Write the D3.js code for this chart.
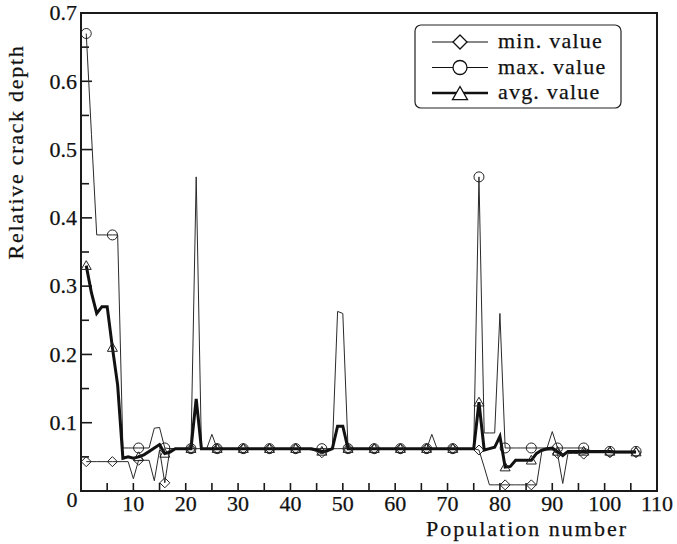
<!DOCTYPE html>
<html lang="en">
  <head>
    <meta charset="utf-8">
    <title>Relative crack depth</title>
    <style>
      body { margin: 0; background: #fff; }
      svg text { font-family: "Liberation Serif", "Times New Roman", Times, serif; fill: #111; stroke: #111; stroke-width: 0.25px; }
    </style>
  </head>
  <body>
    <div id="chart"></div>
    <script src="https://d3js.org/d3.v7.min.js"></script>
    <script>
      // population numbers 1..106, markers on every 5th one
      var population = d3.range(1, 107)

      var minValue = [
        0.043, 0.043, 0.043, 0.043, 0.043, 0.043, 0.043, 0.043, 0.043, 0.018,
        0.045, 0.045, 0.045, 0.015, 0.060, 0.012, 0.062, 0.062, 0.062, 0.062,
        0.062, 0.062, 0.062, 0.062, 0.062, 0.062, 0.062, 0.062, 0.062, 0.062,
        0.062, 0.062, 0.062, 0.062, 0.062, 0.062, 0.062, 0.062, 0.062, 0.062,
        0.062, 0.062, 0.062, 0.060, 0.058, 0.056, 0.058, 0.062, 0.062, 0.062,
        0.062, 0.062, 0.062, 0.062, 0.062, 0.062, 0.062, 0.062, 0.062, 0.062,
        0.062, 0.062, 0.062, 0.062, 0.062, 0.062, 0.062, 0.062, 0.062, 0.062,
        0.062, 0.062, 0.062, 0.062, 0.062, 0.060, 0.035, 0.009, 0.009, 0.009,
        0.009, 0.009, 0.009, 0.009, 0.009, 0.009, 0.009, 0.058, 0.060, 0.060,
        0.055, 0.011, 0.055, 0.055, 0.055, 0.054, 0.056, 0.056, 0.056, 0.056,
        0.056, 0.056, 0.056, 0.056, 0.056, 0.056
      ]

      var maxValue = [
        0.670, 0.522, 0.375, 0.375, 0.375, 0.375, 0.375, 0.063, 0.063, 0.063,
        0.063, 0.063, 0.063, 0.092, 0.093, 0.063, 0.062, 0.062, 0.062, 0.062,
        0.062, 0.460, 0.062, 0.062, 0.083, 0.062, 0.062, 0.062, 0.062, 0.062,
        0.062, 0.062, 0.062, 0.062, 0.062, 0.062, 0.062, 0.062, 0.062, 0.062,
        0.062, 0.062, 0.062, 0.062, 0.062, 0.062, 0.062, 0.062, 0.263, 0.260,
        0.062, 0.062, 0.062, 0.062, 0.062, 0.062, 0.062, 0.062, 0.062, 0.062,
        0.062, 0.062, 0.062, 0.062, 0.062, 0.062, 0.083, 0.062, 0.062, 0.062,
        0.062, 0.062, 0.062, 0.062, 0.062, 0.460, 0.085, 0.085, 0.085, 0.260,
        0.063, 0.063, 0.063, 0.063, 0.063, 0.063, 0.063, 0.063, 0.063, 0.087,
        0.063, 0.063, 0.063, 0.063, 0.063, 0.063, 0.060, 0.058, 0.058, 0.058,
        0.058, 0.058, 0.058, 0.058, 0.058, 0.058
      ]

      var avgValue = [
        0.330, 0.290, 0.260, 0.270, 0.270, 0.210, 0.155, 0.048, 0.050, 0.048,
        0.050, 0.053, 0.058, 0.063, 0.068, 0.055, 0.057, 0.062, 0.062, 0.062,
        0.062, 0.135, 0.062, 0.062, 0.062, 0.062, 0.062, 0.062, 0.062, 0.062,
        0.062, 0.062, 0.062, 0.062, 0.062, 0.062, 0.062, 0.062, 0.062, 0.062,
        0.062, 0.062, 0.062, 0.062, 0.060, 0.058, 0.059, 0.062, 0.095, 0.095,
        0.062, 0.062, 0.062, 0.062, 0.062, 0.062, 0.062, 0.062, 0.062, 0.062,
        0.062, 0.062, 0.062, 0.062, 0.062, 0.062, 0.062, 0.062, 0.062, 0.062,
        0.062, 0.062, 0.062, 0.062, 0.062, 0.130, 0.060, 0.062, 0.064, 0.080,
        0.035, 0.036, 0.045, 0.045, 0.045, 0.045, 0.055, 0.060, 0.062, 0.063,
        0.058, 0.052, 0.058, 0.058, 0.058, 0.058, 0.058, 0.058, 0.058, 0.058,
        0.058, 0.057, 0.057, 0.057, 0.057, 0.057
      ]

      var xTicks = d3.range(0, 111, 5)
      var xLabels = [10, 20, 30, 40, 50, 60, 70, 80, 90, 100, 110]
      var yTicks = d3.range(0, 0.701, 0.05)
      var yLabels = [0.1, 0.2, 0.3, 0.4, 0.5, 0.6, 0.7]

      var series = [
        {name: "min. value", values: minValue, shape: "diamond", width: 1},
        {name: "max. value", values: maxValue, shape: "circle", width: 1},
        {name: "avg. value", values: avgValue, shape: "triangle", width: 3}
      ]

      var W = 677, H = 544,
        margins = {top: 13, right: 20, bottom: 53, left: 81},
        width = W - margins.left - margins.right,
        height = H - margins.top - margins.bottom

      var svg = d3.select("#chart")
        .append("svg")
          .attr("width", W)
          .attr("height", H)
          .attr("font-family", "'Liberation Serif', 'Times New Roman', serif")
        .append("g")
          .attr("transform", "translate(" + margins.left + "," + margins.top + ")")

      var x = d3.scaleLinear().domain([0, 110]).range([0, width])
      var y = d3.scaleLinear().domain([0, 0.7]).range([height, 0])

      // inward ticks
      svg.append("g").selectAll("line")
        .data(xTicks.filter(function(d) { return d > 0 && d < 110 }))
        .join("line")
          .attr("x1", function(d) { return x(d) })
          .attr("x2", function(d) { return x(d) })
          .attr("y1", height)
          .attr("y2", height - 8)
          .attr("stroke", "#1a1a1a")
          .attr("stroke-width", 1.6)

      svg.append("g").selectAll("line")
        .data(yTicks.filter(function(d) { return d > 0.001 && d < 0.699 }))
        .join("line")
          .attr("x1", 0)
          .attr("x2", function(d, i) { return i % 2 == 1 ? 11 : 8 })
          .attr("y1", function(d) { return y(d) })
          .attr("y2", function(d) { return y(d) })
          .attr("stroke", "#1a1a1a")
          .attr("stroke-width", 1.6)

      svg.append("g").selectAll("text")
        .data(xLabels)
        .join("text")
          .attr("x", function(d) { return x(d) })
          .attr("y", height + 20)
          .attr("text-anchor", "middle")
          .attr("font-size", 22)
          .text(function(d) { return d })

      svg.append("g").selectAll("text")
        .data(yLabels)
        .join("text")
          .attr("x", -4)
          .attr("y", function(d) { return y(d) })
          .attr("dy", "0.33em")
          .attr("text-anchor", "end")
          .attr("font-size", 22)
          .text(function(d) { return d3.format(".1f")(d) })

      // shared zero at the corner
      svg.append("text")
        .attr("x", -9)
        .attr("y", height + 16)
        .attr("text-anchor", "middle")
        .attr("font-size", 22)
        .text("0")

      svg.append("text")
        .attr("x", 446)
        .attr("y", height + 45)
        .attr("text-anchor", "middle")
        .attr("font-size", 22)
        .attr("letter-spacing", 2)
        .text("Population number")

      svg.append("text")
        .attr("transform", "translate(-58," + 139 + ") rotate(-90)")
        .attr("text-anchor", "middle")
        .attr("font-size", 22)
        .attr("letter-spacing", 1.7)
        .text("Relative crack depth")

      function markerPath(shape, s) {
        if (shape == "diamond") return "M0," + (-s) + "L" + s + ",0L0," + s + "L" + (-s) + ",0Z"
        if (shape == "triangle") return "M0," + (-s) + "L" + s + "," + (s * 0.75) + "L" + (-s) + "," + (s * 0.75) + "Z"
        return "M" + (-s) + ",0A" + s + "," + s + " 0 1,0 " + s + ",0A" + s + "," + s + " 0 1,0 " + (-s) + ",0Z"
      }

      var line = d3.line()
        .x(function(d) { return x(d[0]) })
        .y(function(d) { return y(d[1]) })

      series.forEach(function(s) {
        var pts = population.map(function(p, i) { return [p, s.values[i]] })
        svg.append("path")
          .datum(pts)
          .attr("d", line)
          .attr("fill", "none")
          .attr("stroke", s.width > 1 ? "#111" : "#2a2a2a")
          .attr("stroke-width", s.width)
          .attr("stroke-linejoin", "miter")

        svg.append("g").selectAll("path")
          .data(pts.filter(function(d) { return (d[0] - 1) % 5 == 0 }))
          .join("path")
            .attr("transform", function(d) { return "translate(" + x(d[0]) + "," + y(d[1]) + ")" })
            .attr("d", markerPath(s.shape, 5))
            .attr("fill", "none")
            .attr("stroke", "#222")
            .attr("stroke-width", 1)
      })

      // frame
      svg.append("rect")
        .attr("width", width)
        .attr("height", height)
        .attr("fill", "none")
        .attr("stroke", "#1a1a1a")
        .attr("stroke-width", 2)

      // legend
      var legend = svg.append("g")
        .attr("transform", "translate(" + (415 - margins.left) + "," + (25 - margins.top) + ")")

      legend.append("rect")
        .attr("width", 206)
        .attr("height", 83)
        .attr("rx", 6)
        .attr("fill", "#fff")
        .attr("stroke", "#222")
        .attr("stroke-width", 1.2)

      legend.selectAll("g.item")
        .data(series)
        .join("g")
          .attr("class", "item")
          .attr("transform", function(d, i) { return "translate(0," + (17 + i * 25.5) + ")" })
          .each(function(d) {
            var g = d3.select(this)
            g.append("line")
              .attr("x1", 17).attr("x2", 73)
              .attr("stroke", "#111")
              .attr("stroke-width", d.width > 1 ? 2.6 : 1.2)
            g.append("path")
              .attr("transform", "translate(45," + (d.shape == "triangle" ? 1 : 0) + ")")
              .attr("d", markerPath(d.shape, d.shape == "triangle" ? 7.5 : 7))
              .attr("fill", "#fff")
              .attr("stroke", "#111")
              .attr("stroke-width", 1.3)
            g.append("text")
              .attr("x", 83)
              .attr("y", 6)
              .attr("font-size", 22)
              .attr("letter-spacing", 1.2)
              .text(d.name)
          })
    </script>
  </body>
</html>
